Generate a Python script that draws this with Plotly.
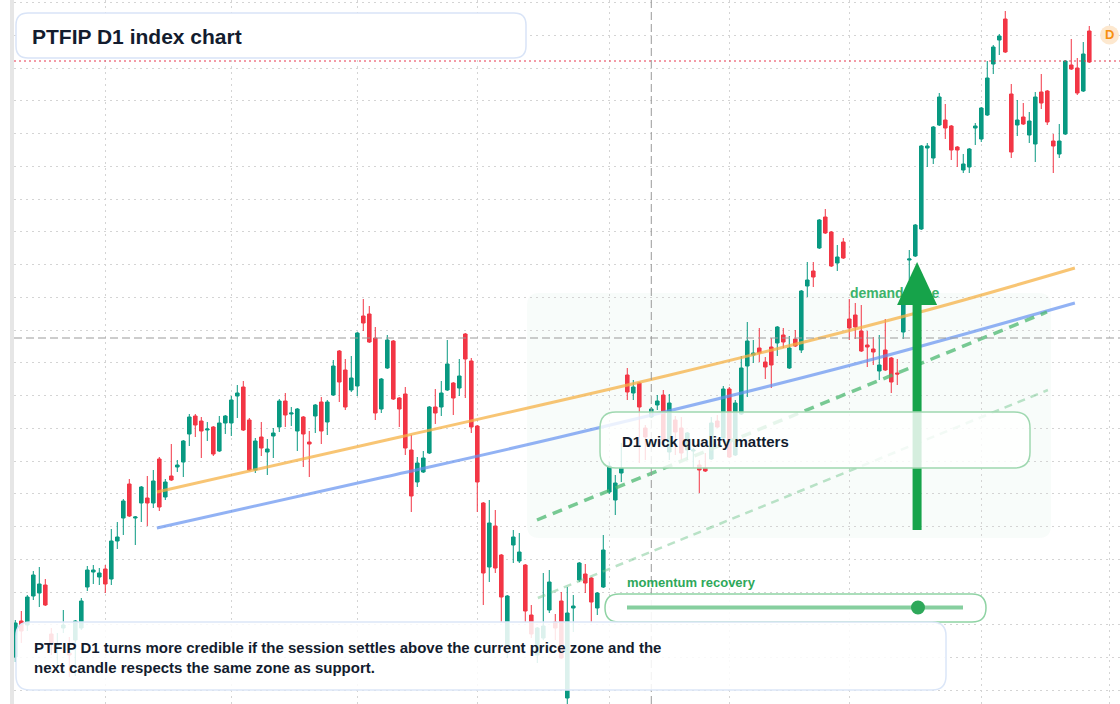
import plotly.graph_objects as go

# ---------------- data ----------------
open_ = [104.7,108.3,107.9,110.8,111.1,111.9,107.0,105.8,107.6,105.1,
         106.4,107.6,111.7,113.2,112.7,113.5,112.5,116.3,118.6,122.0,
         118.6,120.1,120.6,120.1,124.5,120.7,122.8,123.7,124.2,127.0,
         128.8,128.3,127.4,127.7,125.3,128.1,128.1,130.8,131.7,128.4,
         123.4,126.7,125.2,126.8,127.7,130.3,129.0,127.3,128.7,126.2,
         128.8,130.2,128.2,130.9,135.3,133.4,131.4,131.8,138.8,139.0,
         136.6,129.5,133.6,136.3,130.6,131.0,125.4,122.2,123.2,125.1,
         129.7,129.7,131.4,132.1,131.6,137.0,134.3,127.8,120.1,113.7,
         117.8,114.9,105.9,115.9,114.3,113.9,108.9,104.9,106.6,109.4,
         108.2,110.3,100.6,109.6,112.4,113.0,112.6,109.6,111.7,121.2,
         120.4,123.1,132.9,131.1,132.1,127.6,128.7,129.9,130.9,125.2,
         128.4,127.6,125.4,125.3,123.9,123.6,124.5,128.3,126.6,131.5,
         124.9,129.0,133.8,134.9,135.6,134.2,135.7,136.1,136.9,133.6,
         136.5,135.4,141.8,143.3,145.6,148.7,147.2,144.1,146.2,138.5,
         138.9,137.3,135.9,135.5,133.3,135.4,134.6,133.1,137.2,144.4,
         144.8,147.5,155.6,154.6,157.9,158.4,157.8,155.7,153.4,153.7,
         157.6,156.5,158.9,164.0,166.4,168.5,161.0,157.9,158.7,156.9,
         156.0,161.2,161.3,156.3,155.0,157.0,163.9,163.6,161.3,167.3]
high = [108.4,109.3,110.9,113.3,113.7,112.5,107.6,107.1,109.4,106.7,
        108.4,110.6,113.8,113.9,113.6,113.9,117.5,118.2,120.5,122.5,
        118.8,121.8,122.8,123.4,124.7,122.5,126.0,124.4,126.4,129.0,
        129.0,128.7,128.2,127.8,128.8,128.9,130.8,131.9,132.3,128.6,
        126.6,128.2,126.5,127.6,130.5,131.1,129.7,129.6,128.8,127.3,
        130.0,130.7,130.4,134.4,135.4,134.5,134.8,137.2,140.5,139.8,
        137.7,132.6,136.9,136.4,130.7,131.7,126.9,124.7,125.3,129.8,
        131.5,132.3,136.4,132.2,134.5,137.1,134.6,127.9,120.2,120.4,
        119.4,115.0,110.9,117.4,117.1,114.0,109.9,107.7,113.1,113.4,
        109.0,111.2,111.7,110.9,114.2,114.0,112.7,111.2,116.9,124.2,
        122.9,126.1,133.6,132.4,132.2,127.9,129.7,130.9,131.4,131.0,
        128.8,128.7,127.2,125.6,124.4,125.1,128.7,128.9,131.8,131.7,
        130.4,134.8,138.2,136.4,137.6,134.7,136.6,137.8,137.6,136.8,
        137.4,141.4,144.2,144.2,148.5,149.5,147.3,145.9,146.6,140.5,
        140.1,139.9,137.3,136.7,136.9,138.5,134.7,134.5,140.0,145.4,
        148.0,155.9,156.1,157.8,161.1,160.0,157.9,155.8,155.0,155.6,
        158.1,159.7,164.3,165.9,167.0,169.3,162.0,160.4,160.1,159.2,
        161.2,163.0,161.4,157.0,158.0,164.4,166.5,164.6,166.2,167.8]
low = [104.2,106.1,107.3,110.4,109.7,109.8,104.9,103.2,107.1,102.7,
       102.8,107.4,111.3,112.0,111.9,111.1,111.9,115.5,116.9,118.7,
       115.9,118.2,117.8,119.6,119.3,120.4,122.3,123.2,122.7,125.8,
       126.7,124.6,126.3,124.8,125.2,127.0,126.8,128.6,127.3,123.3,
       123.1,124.8,122.9,124.6,127.2,127.7,127.8,125.3,123.7,122.7,
       127.1,126.0,126.9,130.8,130.2,129.4,131.2,130.8,137.3,136.1,
       128.4,129.1,133.5,130.4,127.7,124.9,119.2,121.7,123.1,125.0,
       128.0,128.8,131.3,128.9,130.8,130.6,127.1,119.2,109.9,112.2,
       113.1,108.2,104.6,114.1,114.1,108.2,106.6,104.1,106.4,109.1,
       106.4,104.5,99.8,107.2,112.2,111.1,108.2,108.9,111.6,121.0,
       118.9,122.2,130.4,130.4,124.1,124.4,128.6,129.4,126.2,124.4,
       124.9,124.4,124.4,123.6,121.1,123.2,124.4,127.6,126.4,124.6,
       124.8,128.9,130.7,134.1,134.2,132.5,131.6,134.8,135.6,133.5,
       135.7,135.1,140.7,141.7,145.5,147.0,143.7,143.3,144.5,136.4,
       136.5,135.2,133.7,133.9,132.4,133.3,131.1,131.9,136.5,142.4,
       144.7,147.4,153.7,154.0,157.8,156.5,154.4,153.7,153.1,153.1,
       155.9,156.2,158.8,163.0,164.9,165.1,154.6,156.8,157.9,156.1,
       154.2,159.5,157.9,153.1,154.6,156.9,163.4,160.9,161.2,164.1]
close = [108.1,107.3,110.7,112.9,112.0,109.9,106.1,106.0,107.9,104.9,
         108.3,110.3,113.4,113.4,113.1,112.0,116.3,116.7,120.3,118.8,
         118.7,121.7,120.1,122.3,119.7,122.2,122.4,123.9,126.3,128.7,
         127.9,127.3,127.5,125.0,128.1,128.8,130.4,131.1,127.4,123.4,
         126.3,125.6,125.5,127.1,130.3,128.9,129.1,129.5,127.0,126.0,
         129.9,127.3,130.2,133.8,132.2,129.7,132.6,137.1,138.1,136.2,
         129.1,132.5,136.4,130.5,129.5,125.6,120.8,124.1,124.6,129.7,
         129.1,131.1,134.0,130.6,132.8,134.5,127.7,122.2,113.1,118.1,
         113.6,110.7,110.8,116.7,115.2,109.3,107.0,107.6,107.8,112.2,
         107.6,104.6,109.1,109.8,114.1,112.1,110.2,111.1,115.4,123.8,
         122.1,123.6,131.2,131.7,129.7,126.7,129.5,130.3,126.4,130.1,
         127.2,125.1,127.1,125.4,123.4,123.3,128.1,127.7,131.5,124.7,
         130.1,133.6,136.3,135.1,135.1,133.7,133.9,137.7,136.2,135.6,
         135.8,141.3,142.4,142.7,148.4,147.1,143.8,144.7,144.6,137.6,
         137.7,135.3,135.7,135.2,133.9,133.4,132.2,133.0,139.9,144.5,
         147.9,155.8,155.8,157.7,160.7,157.6,155.4,155.4,154.0,155.5,
         157.8,159.6,162.6,165.7,166.8,165.2,155.2,158.4,158.0,158.3,
         160.7,160.1,158.2,155.8,156.3,164.3,163.5,161.1,165.0,164.2]
session = list(range(len(open_)))

month_ticks = [15, 36, 57, 77, 99, 119, 139, 161, 182.33]

# trend / channel lines (session index, price)
orange_x = [23.6, 64.1, 109.1, 150.8, 176.6]
orange_y = [121.2, 126.7, 132.9, 139.2, 143.6]
blue_x = [23.6, 60.8, 90.8, 137.4, 176.6]
blue_y = [117.6, 122.6, 126.7, 133.6, 140.1]
chan_hi_x = [86.95, 171.95]
chan_hi_y = [118.4, 139.2]
chan_lo_x = [87.1, 172.1]
chan_lo_y = [110.6, 131.4]

zone_x = [85.3, 172.6]
zone_y = [116.6, 141.1]

cross_x = 106
cross_y = 136.6
last_price = close[-1]

arrow_x = 150.3
arrow_y = [117.4, 139.9, 144.2]   # shaft bottom, head base, tip

title = "PTFIP D1 index chart"
note = ("PTFIP D1 turns more credible if the session settles above the current price zone and the"
        "<br>next candle respects the same zone as support.")
callout = "D1 wick quality matters"
zone_label = "demand zone"
slider_label = "momentum recovery"

# ---------------- layout helpers ----------------
W, H = 1120, 704
ML = 14
PW = W - ML


def px(x):
    return (x - ML) / PW


def py(y):
    return 1 - y / H


def rr(xl, xr, yb, yt, rx, ry):
    pts = [("M", xl + rx, yt), ("L", xr - rx, yt), ("Q", xr, yt, xr, yt - ry),
           ("L", xr, yb + ry), ("Q", xr, yb, xr - rx, yb), ("L", xl + rx, yb),
           ("Q", xl, yb, xl, yb + ry), ("L", xl, yt - ry), ("Q", xl, yt, xl + rx, yt)]
    s = ""
    for p in pts:
        cmd = p[0]
        nums = p[1:]
        pairs = ["%.5f,%.5f" % (nums[k], nums[k + 1]) for k in range(0, len(nums), 2)]
        s += cmd + " " + " ".join(pairs) + " "
    return s + "Z"


def panel(x0, y0, x1, y1, r):
    return rr(px(x0), px(x1), py(y1), py(y0), r / PW, r / H)


FONT = "Liberation Sans, Arial, sans-serif"
UP = "#089981"
DN = "#f23645"
DARK = "#131c2e"

fig = go.Figure()

fig.add_trace(go.Candlestick(
    x=session, open=open_, high=high, low=low, close=close,
    increasing=dict(line=dict(color=UP, width=1), fillcolor=UP),
    decreasing=dict(line=dict(color=DN, width=1), fillcolor=DN),
    hoverinfo="skip", showlegend=False))

fig.add_trace(go.Scatter(x=orange_x, y=orange_y, mode="lines", line_shape="spline",
                         line=dict(color="rgba(246,178,70,0.75)", width=3), hoverinfo="skip"))
fig.add_trace(go.Scatter(x=blue_x, y=blue_y, mode="lines", line_shape="spline",
                         line=dict(color="rgba(100,145,240,0.7)", width=3), hoverinfo="skip"))
fig.add_trace(go.Scatter(x=chan_hi_x, y=chan_hi_y, mode="lines",
                         line=dict(color="rgba(76,184,112,0.75)", width=3.5, dash="10px,7px"),
                         hoverinfo="skip"))
fig.add_trace(go.Scatter(x=chan_lo_x, y=chan_lo_y, mode="lines",
                         line=dict(color="rgba(120,200,145,0.5)", width=2.5, dash="8px,6px"),
                         hoverinfo="skip"))
fig.add_trace(go.Scatter(x=[139.1], y=[zone_y[1] - 0.1], mode="text", text=[zone_label],
                         textposition="middle right",
                         textfont=dict(family=FONT, size=14, color="#3db36b", weight=700),
                         hoverinfo="skip"))

shapes = []
# demand zone
shapes.append(dict(type="path", xref="x", yref="y", layer="below",
                   path=rr(zone_x[0], zone_x[1], zone_y[0], zone_y[1], 2.0, 1.2),
                   fillcolor="rgba(34,170,80,0.03)", line=dict(width=0)))
# crosshair
shapes.append(dict(type="line", xref="paper", yref="y", x0=0, x1=1, y0=cross_y, y1=cross_y,
                   layer="above", line=dict(color="#9a9a9a", width=1, dash="8px,4px")))
shapes.append(dict(type="line", xref="x", yref="paper", x0=cross_x, x1=cross_x, y0=0, y1=1,
                   layer="above", line=dict(color="#9a9a9a", width=1, dash="8px,4px")))
# last price line
shapes.append(dict(type="line", xref="paper", yref="y", x0=0, x1=1, y0=last_price + 0.1,
                   y1=last_price + 0.1, layer="above",
                   line=dict(color="#e8364f", width=1, dash="2px,3px")))
# arrow
shapes.append(dict(type="line", xref="x", yref="y", x0=arrow_x, x1=arrow_x,
                   y0=arrow_y[0], y1=arrow_y[1] + 0.3, layer="above",
                   line=dict(color="#16a34a", width=9)))
hw = 20 / 6
shapes.append(dict(type="path", xref="x", yref="y", layer="above",
                   path="M %.3f,%.3f L %.3f,%.3f L %.3f,%.3f Z" % (
                       arrow_x - hw, arrow_y[1], arrow_x + hw, arrow_y[1], arrow_x, arrow_y[2]),
                   fillcolor="#16a34a", line=dict(width=0)))
# panels
shapes.append(dict(type="path", xref="paper", yref="paper", layer="above",
                   path=panel(600, 412, 1030, 468, 16),
                   fillcolor="rgba(255,255,255,0.82)", line=dict(color="#9fd8b0", width=1.5)))
shapes.append(dict(type="path", xref="paper", yref="paper", layer="above",
                   path=panel(605, 594, 986, 622, 14),
                   fillcolor="rgba(255,255,255,0.9)", line=dict(color="#8fd3a4", width=1.5)))
shapes.append(dict(type="line", xref="paper", yref="paper", layer="above",
                   x0=px(627), x1=px(963), y0=py(607.5), y1=py(607.5),
                   line=dict(color="#86cf9f", width=4)))
shapes.append(dict(type="circle", xref="paper", yref="paper", layer="above",
                   x0=px(911), x1=px(925), y0=py(614.5), y1=py(600.5),
                   fillcolor="#2ea85a", line=dict(width=0)))
shapes.append(dict(type="path", xref="paper", yref="paper", layer="above",
                   path=panel(16, 622, 946, 690, 14),
                   fillcolor="rgba(255,255,255,0.86)", line=dict(color="#dbe6f8", width=1.5)))
shapes.append(dict(type="path", xref="paper", yref="paper", layer="above",
                   path=panel(16, 13, 526, 58, 12),
                   fillcolor="#ffffff", line=dict(color="#d9e4f7", width=1.5)))
# D badge
shapes.append(dict(type="circle", xref="paper", yref="paper", layer="above",
                   x0=px(1100), x1=px(1119), y0=py(44.5), y1=py(25.5),
                   fillcolor="#fde8cf", line=dict(width=0)))
# left strip
shapes.append(dict(type="rect", xref="paper", yref="paper", layer="above",
                   x0=px(10), x1=px(14), y0=0, y1=1, fillcolor="#e6e6e6", line=dict(width=0)))

annotations = [
    dict(xref="paper", yref="paper", x=px(30), y=py(36), xanchor="left", yanchor="middle",
         text=title, showarrow=False, font=dict(family=FONT, size=21, color=DARK, weight=700)),
    dict(xref="paper", yref="paper", x=px(32), y=py(657.5), xanchor="left", yanchor="middle",
         align="left", text=note, showarrow=False,
         font=dict(family=FONT, size=15, color=DARK, weight=700)),
    dict(xref="paper", yref="paper", x=px(620), y=py(441.5), xanchor="left", yanchor="middle",
         text=callout, showarrow=False, font=dict(family=FONT, size=15, color=DARK, weight=700)),
    dict(xref="paper", yref="paper", x=px(625), y=py(582.5), xanchor="left", yanchor="middle",
         text=slider_label, showarrow=False,
         font=dict(family=FONT, size=13, color="#2ea85a", weight=700)),
    dict(xref="paper", yref="paper", x=px(1109.5), y=py(35), xanchor="center", yanchor="middle",
         text="D", showarrow=False, font=dict(family=FONT, size=13, color="#f7900f", weight=700)),
]

fig.update_layout(
    width=W, height=H, margin=dict(l=ML, r=0, t=0, b=0),
    paper_bgcolor="white", plot_bgcolor="white", showlegend=False,
    hovermode=False, shapes=shapes, annotations=annotations, boxgap=0.15,
    xaxis=dict(range=[-0.2167, 184.12], tickmode="array", tickvals=month_ticks,
               showticklabels=False, ticks="", showgrid=True, gridcolor="#d4d4d4",
               griddash="2px,4px", gridwidth=1, zeroline=False, showline=False,
               rangeslider=dict(visible=False), fixedrange=True),
    yaxis=dict(range=[100, 170.4], tick0=170.15, dtick=3.275, showticklabels=False,
               ticks="", showgrid=True, gridcolor="#d4d4d4", griddash="2px,4px",
               gridwidth=1, zeroline=False, showline=False, fixedrange=True),
)

fig.write_html("out.html")
